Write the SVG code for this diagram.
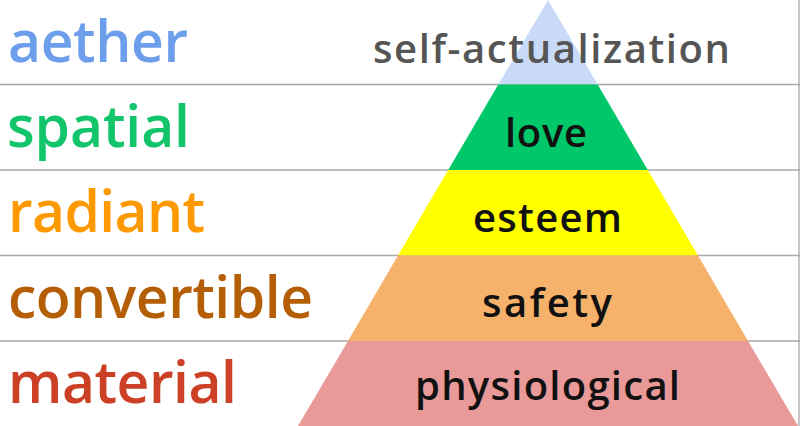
<svg xmlns="http://www.w3.org/2000/svg" width="800" height="426" viewBox="0 0 800 426">
<style>
.grid{stroke:#a8a8a8;stroke-width:1.3;fill:none}
.lbl{font-family:"Open Sans","Lato","Liberation Sans",sans-serif;font-weight:600;font-size:57px}
.tier{font-family:"Open Sans","Lato","Liberation Sans",sans-serif;font-weight:600;font-size:40px;fill:#111}
</style>
<rect width="800" height="426" fill="#ffffff"/>
<g id="grid">
<line class="grid" x1="0" y1="84.5" x2="800" y2="84.5"/>
<line class="grid" x1="0" y1="170" x2="800" y2="170"/>
<line class="grid" x1="0" y1="255.5" x2="800" y2="255.5"/>
<line class="grid" x1="0" y1="341" x2="800" y2="341"/>
<line class="grid" x1="799" y1="0" x2="799" y2="426"/>
</g>
<g id="pyramid">
<g id="tier-self"><polygon points="548,0 498.3,84.5 597.7,84.5" fill="#c9daf8"/></g>
<g id="tier-love"><polygon points="498.3,84.5 597.7,84.5 647.8,170 448.2,170" fill="#00c86a"/></g>
<g id="tier-esteem"><polygon points="448.2,170 647.8,170 698,255.5 398,255.5" fill="#ffff00"/></g>
<g id="tier-safety"><polygon points="398,255.5 698,255.5 748,341 348,341" fill="#f6b26b"/></g>
<g id="tier-physio"><polygon points="348,341 748,341 798,426 298,426" fill="#ea9999"/></g>
</g>
<g id="labels">
<text class="lbl" x="8" y="62" fill="#6d9eeb" textLength="180">aether</text>
<text class="lbl" x="7" y="147" fill="#12c46a" textLength="183">spatial</text>
<text class="lbl" x="8" y="232" fill="#ff9900" textLength="197">radiant</text>
<text class="lbl" x="8" y="318" fill="#b45f06" textLength="305">convertible</text>
<text class="lbl" x="8" y="403" fill="#cc4125" textLength="229">material</text>
</g>
<g id="tier-text">
<text class="tier" x="373" y="63" style="fill:#555555" textLength="357">self-actualization</text>
<text class="tier" x="505" y="147" textLength="82">love</text>
<text class="tier" x="473" y="232" textLength="149">esteem</text>
<text class="tier" x="482" y="317" textLength="130">safety</text>
<text class="tier" x="415" y="400" textLength="265">physiological</text>
</g>
</svg>
